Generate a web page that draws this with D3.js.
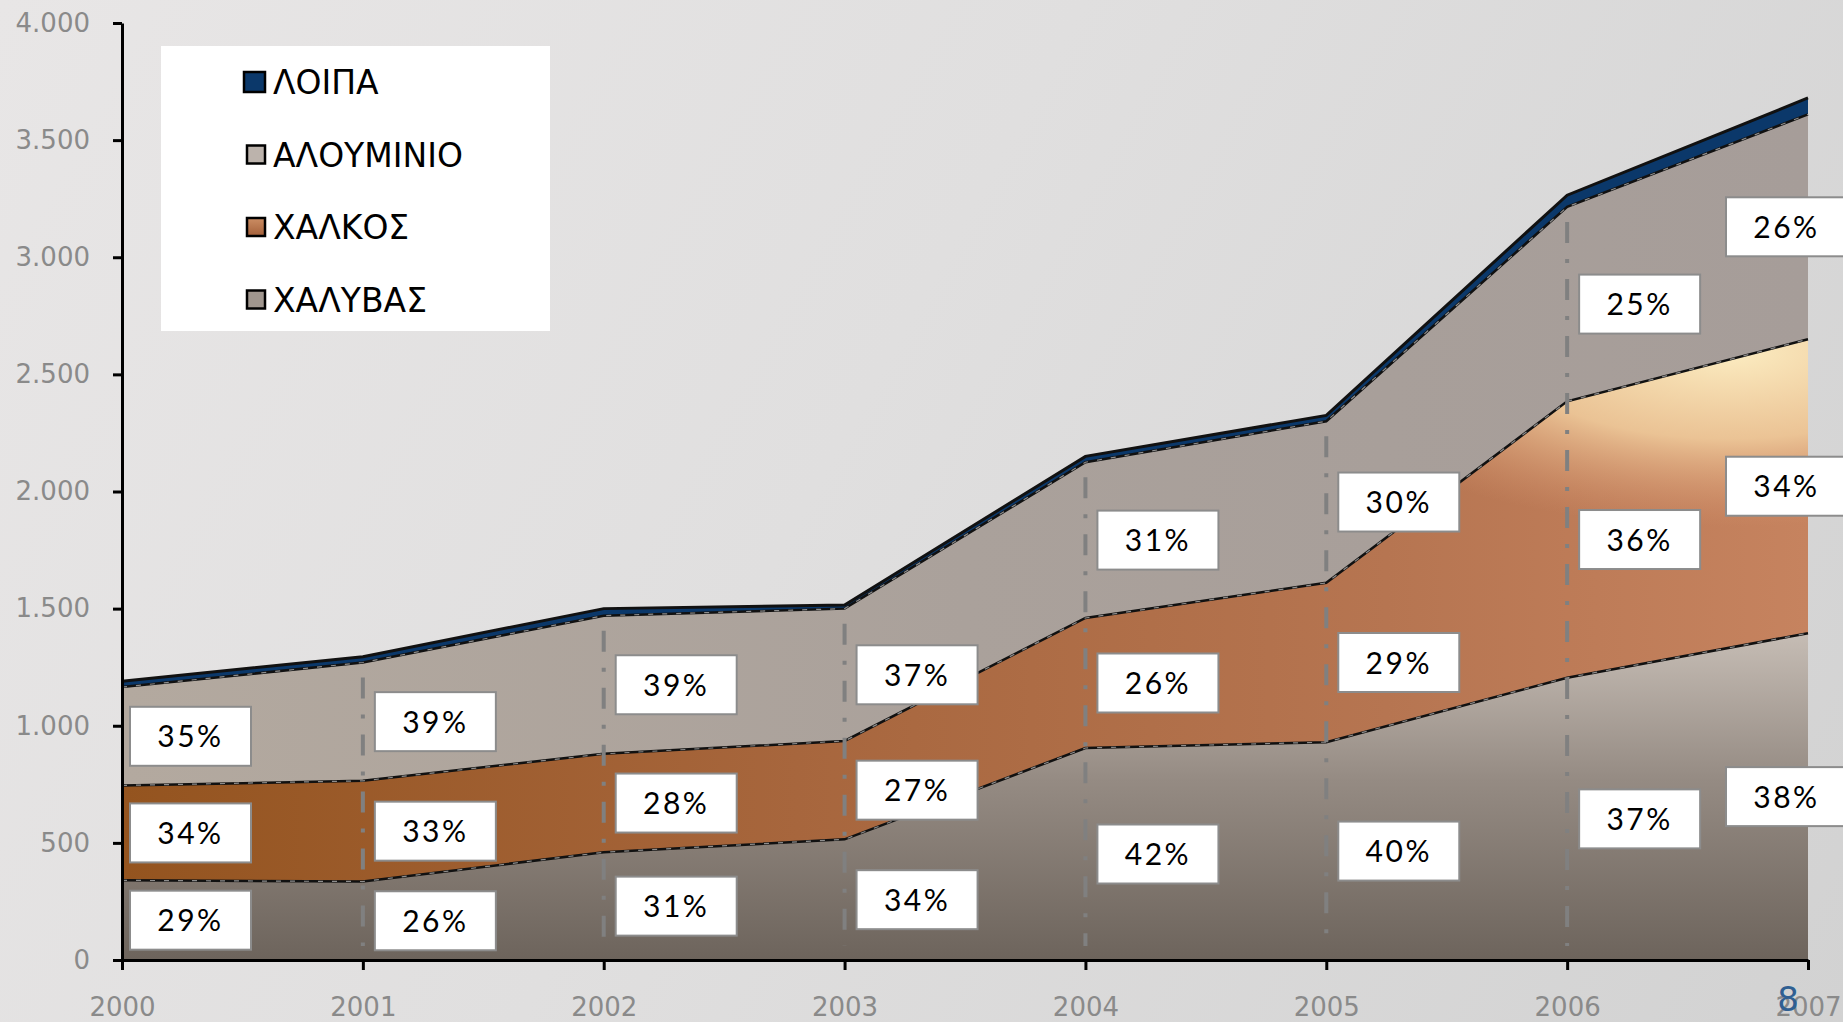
<!DOCTYPE html>
<html>
<head>
<meta charset="utf-8">
<script src="https://cdn.jsdelivr.net/npm/d3@7"></script>
<style>
  body { margin: 0; overflow: hidden; }
</style>
</head>
<body>
<script>
var width = 1843,
    height = 1022;

// data (tonnes, stacked bottom to top)
var years = [2000, 2001, 2002, 2003, 2004, 2005, 2006, 2007];
var steel = [340, 335, 460, 515, 905, 930, 1205, 1395];
var copper = [405, 430, 420, 420, 555, 680, 1180, 1255];
var aluminium = [420, 505, 590, 565, 665, 690, 830, 960];
var others = [25, 25, 30, 15, 25, 25, 50, 70];

// percentage labels as printed
var steelPct = [29, 26, 31, 34, 42, 40, 37, 38];
var copperPct = [34, 33, 28, 27, 26, 29, 36, 34];
var aluPct = [35, 39, 39, 37, 31, 30, 25, 26];

var yTicks = [0, 500, 1000, 1500, 2000, 2500, 3000, 3500, 4000];
var keys = ["steel", "copper", "aluminium", "others"];
var legendNames = ["ΛΟΙΠΑ", "ΑΛΟΥΜΙΝΙΟ", "ΧΑΛΚΟΣ", "ΧΑΛΥΒΑΣ"];
var legendKeys = ["others", "aluminium", "copper", "steel"];

var table = years.map(function(yr, i) {
  return { year: yr, steel: steel[i], copper: copper[i], aluminium: aluminium[i], others: others[i] };
});

var x = d3.scaleLinear().domain([2000, 2007]).range([122, 1808]);
var y = d3.scaleLinear().domain([0, 4000]).range([960, 23]);

var grFormat = d3.formatLocale({ decimal: ",", thousands: ".", grouping: [3], currency: ["", "€"] }).format(",d");

var svg = d3.select("body").append("svg")
    .attr("width", width)
    .attr("height", height);

var defs = svg.append("defs");

function linGrad(id, x1, y1, x2, y2, stops) {
  var g = defs.append("linearGradient")
      .attr("id", id)
      .attr("gradientUnits", "userSpaceOnUse")
      .attr("x1", x1).attr("y1", y1).attr("x2", x2).attr("y2", y2);
  stops.forEach(function(s) {
    g.append("stop").attr("offset", s[0]).attr("stop-color", s[1]).attr("stop-opacity", s[2] == null ? 1 : s[2]);
  });
}

linGrad("bg", 0, 0, width, height, [[0, "#e8e6e6"], [0.45, "#e0dfdf"], [1, "#d2d2d2"]]);
linGrad("steelFill", 0, y(1400), 0, y(0), [[0, "#c6bdb5"], [0.45, "#958b83"], [1, "#6d645c"]]);
linGrad("copperFill", x(2000), 0, x(2007), 0, [[0, "#94541f"], [0.4, "#a7663d"], [0.75, "#b67551"], [1, "#c6835f"]]);
linGrad("aluFill", x(2000), 0, x(2007), 0, [[0, "#b3a99f"], [0.5, "#aaa19b"], [1, "#a69d99"]]);
linGrad("legCopper", 0, -9, 0, 9, [[0, "#cc8e64"], [1, "#a4603a"]]);

var gx = x(2007) - 80, gy = y(2600);
var glow = defs.append("radialGradient")
    .attr("id", "copperGlow")
    .attr("gradientUnits", "userSpaceOnUse")
    .attr("cx", gx).attr("cy", gy).attr("r", 440)
    .attr("gradientTransform", "translate(" + gx + "," + gy + ") scale(1,0.4) translate(" + (-gx) + "," + (-gy) + ")");
glow.append("stop").attr("offset", 0).attr("stop-color", "#fcedc2").attr("stop-opacity", 1);
glow.append("stop").attr("offset", 0.5).attr("stop-color", "#f2cf9f").attr("stop-opacity", 0.85);
glow.append("stop").attr("offset", 1).attr("stop-color", "#dc9b75").attr("stop-opacity", 0);

var fills = {
  steel: "url(#steelFill)",
  copper: "url(#copperFill)",
  aluminium: "url(#aluFill)",
  others: "#0b386a"
};
var legendFills = {
  steel: "#a0968e",
  copper: "url(#legCopper)",
  aluminium: "#bcb3ac",
  others: "#0b386a"
};

svg.append("rect")
    .attr("width", width)
    .attr("height", height)
    .attr("fill", "url(#bg)");

var series = d3.stack().keys(keys)(table);

var area = d3.area()
    .x(function(d) { return x(d.data.year); })
    .y0(function(d) { return y(d[0]); })
    .y1(function(d) { return y(d[1]); });

var topLine = d3.line()
    .x(function(d) { return x(d.data.year); })
    .y(function(d) { return y(d[1]); });

svg.selectAll("path.band")
    .data(series)
  .enter().append("path")
    .attr("class", "band")
    .attr("d", area)
    .attr("fill", function(d) { return fills[d.key]; });

// light patch on the copper band near 2006-2007
svg.append("path")
    .attr("d", area(series[1]))
    .attr("fill", "url(#copperGlow)");

// boundary lines
svg.selectAll("path.edge")
    .data(series)
  .enter().append("path")
    .attr("class", "edge")
    .attr("d", topLine)
    .attr("fill", "none")
    .attr("stroke", "#111")
    .attr("stroke-width", function(d) { return d.key == "others" ? 3 : 2.5; });

svg.selectAll("path.edgeDash")
    .data(series.slice(0, 3))
  .enter().append("path")
    .attr("class", "edgeDash")
    .attr("d", topLine)
    .attr("fill", "none")
    .attr("stroke", "#8d8d8d")
    .attr("stroke-width", 1.2)
    .attr("stroke-dasharray", "5,9");

// dash-dot year lines
svg.selectAll("line.year")
    .data(table.slice(1, 7))
  .enter().append("line")
    .attr("class", "year")
    .attr("x1", function(d) { return x(d.year); })
    .attr("x2", function(d) { return x(d.year); })
    .attr("y1", function(d) { return y(d.steel + d.copper + d.aluminium) + 15; })
    .attr("y2", y(0) - 14)
    .attr("stroke", "#808080")
    .attr("stroke-width", 4)
    .attr("stroke-dasharray", "21,16,4,16");

// axes
var yAxis = svg.append("g")
    .attr("transform", "translate(" + x(2000) + ",0)")
    .call(d3.axisLeft(y).tickValues(yTicks).tickFormat(grFormat).tickSize(9).tickSizeOuter(0).tickPadding(23));

var xAxis = svg.append("g")
    .attr("transform", "translate(0," + y(0) + ")")
    .call(d3.axisBottom(x).tickValues(years).tickFormat(d3.format("d")).tickSize(10).tickSizeOuter(0).tickPadding(28));

[yAxis, xAxis].forEach(function(g) {
  g.select(".domain").attr("stroke", "#000").attr("stroke-width", 3);
  g.selectAll(".tick line").attr("stroke", "#000").attr("stroke-width", 3);
  g.selectAll(".tick text")
      .attr("fill", "#8a8a8a")
      .style("font-family", "'DejaVu Sans', Verdana, sans-serif")
      .style("font-size", "26px");
});

// percentage labels, centred in each band
var labels = [];
years.forEach(function(yr, i) {
  var s = steel[i], c = copper[i], a = aluminium[i];
  labels.push({ i: i, v: s / 2, t: steelPct[i] });
  labels.push({ i: i, v: s + c / 2, t: copperPct[i] });
  labels.push({ i: i, v: s + c + a / 2, t: aluPct[i] });
});

var boxW = 121, boxH = 59;

var lab = svg.selectAll("g.lab")
    .data(labels)
  .enter().append("g")
    .attr("class", "lab")
    .attr("transform", function(d) {
      var left = d.i == years.length - 1 ? x(years[d.i]) - 82 : x(years[d.i]) + (d.i == 0 ? 8 : 12);
      var cy = Math.min(y(d.v), y(0) - 8 - boxH / 2);
      return "translate(" + left + "," + (cy - boxH / 2) + ")";
    });

lab.append("rect")
    .attr("width", boxW)
    .attr("height", boxH)
    .attr("fill", "#fff")
    .attr("stroke", "#8c8c8c")
    .attr("stroke-width", 2);

lab.append("text")
    .attr("x", boxW / 2)
    .attr("y", boxH / 2 + 11)
    .attr("text-anchor", "middle")
    .style("font-family", "Lato, sans-serif")
    .style("font-size", "30px")
    .style("letter-spacing", "2.5px")
    .attr("fill", "#000")
    .text(function(d) { return d.t + "%"; });

// legend
var legend = svg.append("g");

legend.append("rect")
    .attr("x", 161)
    .attr("y", 46)
    .attr("width", 389)
    .attr("height", 285)
    .attr("fill", "#fff");

var item = legend.selectAll("g.item")
    .data(legendKeys)
  .enter().append("g")
    .attr("class", "item")
    .attr("transform", function(d, i) { return "translate(0," + (82 + i * 72.5) + ")"; });

item.append("rect")
    .attr("x", function(d, i) { return i == 0 ? 244 : 247; })
    .attr("y", function(d, i) { return i == 0 ? -10 : -9; })
    .attr("width", function(d, i) { return i == 0 ? 21 : 18; })
    .attr("height", function(d, i) { return i == 0 ? 20 : 18; })
    .attr("fill", function(d) { return legendFills[d]; })
    .attr("stroke", "#000")
    .attr("stroke-width", 2.5);

item.append("text")
    .attr("x", 273)
    .attr("y", 12)
    .style("font-family", "'DejaVu Sans', Verdana, sans-serif")
    .style("font-size", "33px")
    .attr("fill", "#000")
    .text(function(d, i) { return legendNames[i]; });

// slide number
svg.append("text")
    .attr("x", 1788)
    .attr("y", 1011)
    .attr("text-anchor", "middle")
    .style("font-family", "'DejaVu Sans', Verdana, sans-serif")
    .style("font-size", "34px")
    .attr("fill", "#2f5f92")
    .text("8");
</script>
</body>
</html>
